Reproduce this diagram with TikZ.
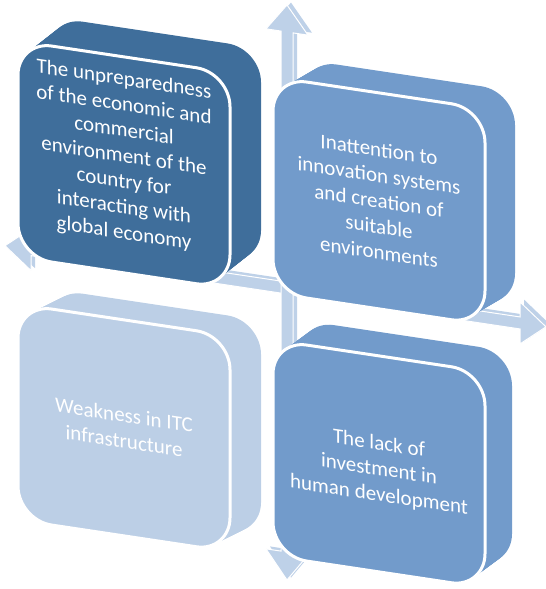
\documentclass[tikz,border=0pt]{standalone}
\usepackage{fontspec}
\setmainfont{Carlito}

\definecolor{darkpanel}{HTML}{3F6E9B}
\definecolor{midpanel}{HTML}{729BCB}
\definecolor{lightpanel}{HTML}{BCCFE6}
\definecolor{arrowblue}{HTML}{BED1E8}

\tikzset{
  paneltext/.style={text=white, align=center, inner sep=0pt,
    font=\fontsize{21}{25.6}\selectfont},
  arrowback/.style={fill=arrowblue},
  arrowfront/.style={fill=arrowblue, draw=white, line width=1pt},
}

% extruded panel: [text shift] x, y of front top-left, colour, extrusion offset, node name, text
\newcommand{\drawpanel}[8][0]{%
  \begin{scope}[shift={(#2,#3)}, yslant=-\slant]
    \foreach \t in {0,1,...,20}
      \fill[#4, rounded corners=\rad] ({\t/20*#5},{\t/20*#6}) rectangle ++(\w,-\h);
    \filldraw[fill=#4, draw=white, line width=3pt, rounded corners=\rad]
      (0,0) rectangle (\w,-\h);
    \node[paneltext, transform shape] (#7) at (\w/2,-\h/2+#1) {#8};
  \end{scope}}

\begin{document}
\begin{tikzpicture}[x=1pt,y=1pt]

% Parameters
\def\w{212}      % panel width
\def\h{216}      % panel height
\def\rad{34pt}   % corner radius
\def\slant{0.15} % perspective slant

\useasboundingbox (0,0) rectangle (546,589);

% Cross of double arrows behind the panels
\begin{scope}[shift={(287,301)}, yslant=-\slant]
  \foreach \d/\st in {4/arrowback, 0/arrowfront} {
    \path[\st, shift={(\d,0.75*\d)}]
      (-282,0) -- (-256,21) -- (-256,6) -- (233,6) -- (233,21) -- (259,0)
      -- (233,-21) -- (233,-6) -- (-256,-6) -- (-256,-21) -- cycle;
    \path[\st, shift={(\d,0.75*\d)}]
      (0,283) -- (21,256) -- (6,256) -- (6,-264) -- (21,-264) -- (0,-292)
      -- (-21,-264) -- (-6,-264) -- (-6,256) -- (-21,256) -- cycle;
  }
\end{scope}

% Four panels
\drawpanel[8]{18}{548}{darkpanel}{31}{29}{unprepared}{The unpreparedness\\of the economic and\\commercial\\environment of the\\country for\\interacting with\\global economy}
\drawpanel{273}{512}{midpanel}{30}{22}{innovation}{Inattention to\\innovation systems\\and creation of\\suitable\\environments}
\drawpanel{18}{285}{lightpanel}{31}{20}{itc}{Weakness in ITC\\infrastructure}
\drawpanel[-6]{273}{249}{midpanel}{27}{24}{investment}{The lack of\\investment in\\human development}

\end{tikzpicture}
\end{document}
